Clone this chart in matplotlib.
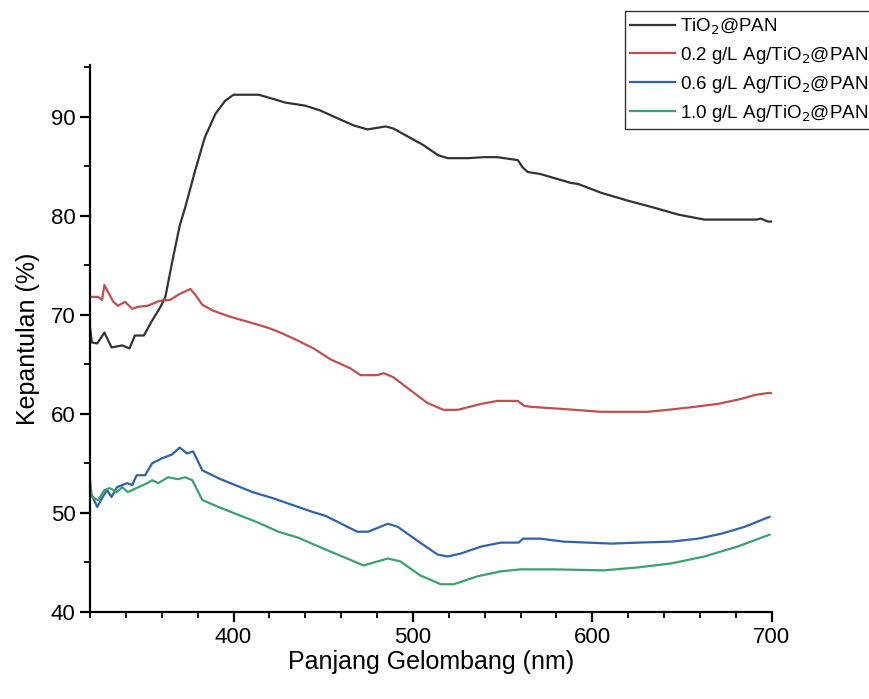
import matplotlib
matplotlib.use('Agg')
import matplotlib.pyplot as plt
from matplotlib.ticker import MultipleLocator

plt.rcParams['font.family'] = ['Liberation Sans', 'DejaVu Sans']

# TiO2@PAN
wl_tio2 = [320, 321, 324, 328, 332, 338, 342, 345, 350, 354.6, 359, 362, 366, 370, 373,
           378.7, 384, 390, 395.4, 400, 414, 421.7, 429, 440, 448.5, 455.8, 467, 474.7,
           478, 484.8, 489, 497, 506, 514, 519.4, 530.6, 539.6, 547, 558.5, 561, 564,
           571, 578.6, 588, 592, 605, 620, 634.5, 648, 662.5, 675.9, 691.5, 694, 698, 700]
r_tio2 = [68.7, 67.2, 67.1, 68.2, 66.7, 66.9, 66.6, 67.9, 67.9, 69.4, 70.7, 71.8, 75.5,
          79.0, 80.8, 84.6, 87.9, 90.3, 91.6, 92.2, 92.2, 91.8, 91.4, 91.1, 90.6, 90.0,
          89.1, 88.7, 88.8, 89.0, 88.8, 88.0, 87.1, 86.1, 85.8, 85.8, 85.9, 85.9, 85.6,
          84.9, 84.4, 84.2, 83.8, 83.3, 83.2, 82.3, 81.5, 80.8, 80.1, 79.6, 79.6, 79.6,
          79.7, 79.4, 79.4]

# 0.2 g/L Ag/TiO2@PAN
wl_02 = [320, 324.5, 326.7, 328, 330, 333, 335.6, 339.5, 343.5, 347, 352, 359, 364.7,
         370, 375.9, 378.7, 382.6, 388.7, 398, 407.7, 419, 426, 433.4, 444.6, 454, 465,
         470.8, 480, 483.7, 489, 497, 508, 517, 525, 538, 547, 558.5, 562, 566, 582.6,
         605, 631, 642, 657, 670, 683, 690.6, 698, 700]
r_02 = [71.8, 71.8, 71.5, 73.0, 72.3, 71.3, 70.9, 71.3, 70.6, 70.8, 70.9, 71.4, 71.5,
        72.1, 72.6, 72.0, 71.0, 70.4, 69.8, 69.3, 68.7, 68.2, 67.6, 66.6, 65.5, 64.6,
        63.9, 63.9, 64.1, 63.7, 62.6, 61.1, 60.4, 60.4, 61.0, 61.3, 61.3, 60.8, 60.7,
        60.5, 60.2, 60.2, 60.4, 60.7, 61.0, 61.5, 61.9, 62.1, 62.1]

# 0.6 g/L Ag/TiO2@PAN
wl_06 = [320, 320.5, 324, 326.7, 329.5, 332, 335, 340.7, 343.5, 346, 350.7, 354.6, 360,
         365.8, 370, 374, 377.5, 382.6, 391.5, 401, 410.5, 421.7, 432.8, 444, 451.3, 469,
         475, 486, 491.5, 504, 513.7, 519.4, 526.7, 538, 549, 559, 561.3, 571, 584,
         597.6, 610.5, 625.6, 644, 659, 672, 685, 698.8]
r_06 = [51.8, 52.0, 50.6, 51.5, 52.3, 51.6, 52.6, 53.0, 52.8, 53.8, 53.8, 55.0, 55.5,
        55.9, 56.6, 56.0, 56.2, 54.3, 53.5, 52.8, 52.1, 51.5, 50.8, 50.1, 49.7, 48.1,
        48.1, 48.9, 48.6, 47.0, 45.8, 45.6, 45.9, 46.6, 47.0, 47.0, 47.4, 47.4, 47.1,
        47.0, 46.9, 47.0, 47.1, 47.4, 47.9, 48.6, 49.6]

# 1.0 g/L Ag/TiO2@PAN
wl_10 = [320, 321, 324.5, 328, 331, 335, 337.9, 341, 347, 352, 354.6, 358, 363.6, 369,
         373, 377, 382.6, 391.5, 402.7, 414, 425, 436, 451.3, 472.5, 486, 493, 504,
         515.5, 522.8, 536, 549, 560, 578.6, 606.6, 625.6, 644, 662.5, 681, 698.8]
r_10 = [53.3, 51.6, 51.3, 52.3, 52.5, 52.1, 52.6, 52.1, 52.6, 53.0, 53.3, 53.0, 53.6,
        53.4, 53.6, 53.3, 51.3, 50.6, 49.8, 49.0, 48.1, 47.5, 46.3, 44.7, 45.4, 45.1,
        43.7, 42.8, 42.8, 43.6, 44.1, 44.3, 44.3, 44.2, 44.5, 44.9, 45.6, 46.6, 47.8]

fig = plt.figure(figsize=(8.69, 6.99), dpi=100)
ax = fig.add_axes([0.1036, 0.1245, 0.7844, 0.7825])

lw = 1.6
ax.plot(wl_tio2, r_tio2, color='#333333', lw=lw, label='TiO$_2$@PAN')
ax.plot(wl_02, r_02, color='#c0504d', lw=lw, label='0.2 g/L Ag/TiO$_2$@PAN')
ax.plot(wl_06, r_06, color='#2e64a8', lw=lw, label='0.6 g/L Ag/TiO$_2$@PAN')
ax.plot(wl_10, r_10, color='#3ca070', lw=lw, label='1.0 g/L Ag/TiO$_2$@PAN')

ax.set_xlim(320, 700)
ax.set_ylim(40, 95.2)
ax.xaxis.set_major_locator(MultipleLocator(100))
ax.xaxis.set_minor_locator(MultipleLocator(20))
ax.yaxis.set_major_locator(MultipleLocator(10))
ax.yaxis.set_minor_locator(MultipleLocator(5))
ax.set_xticks([400, 500, 600, 700])

for side in ['top', 'right']:
    ax.spines[side].set_visible(False)
for side in ['left', 'bottom']:
    ax.spines[side].set_linewidth(1.6)
ax.tick_params(which='major', direction='out', length=7, width=1.6, labelsize=16)
ax.tick_params(which='minor', direction='out', length=4, width=1.3)

ax.set_xlabel('Panjang Gelombang (nm)', fontsize=18, labelpad=2)
ax.set_ylabel('Kepantulan (%)', fontsize=18, labelpad=8)

leg = fig.legend(loc='upper left', bbox_to_anchor=(0.719, 0.984), fontsize=13.5,
                 frameon=True, fancybox=False, handlelength=2.4, handletextpad=0.25,
                 borderpad=0.3, labelspacing=0.42, borderaxespad=0)
leg.get_frame().set_edgecolor('black')
leg.get_frame().set_linewidth(1.0)

fig.savefig('out.png', dpi=100)
